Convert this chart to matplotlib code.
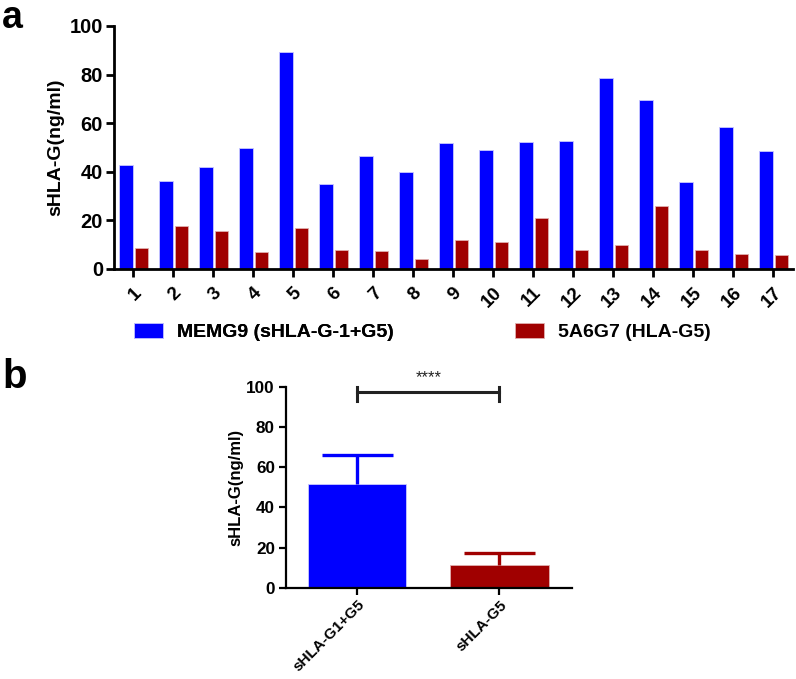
import matplotlib
matplotlib.use("Agg")
import matplotlib.pyplot as plt
import numpy as np

plt.rcParams['font.family'] = ['Liberation Sans', 'DejaVu Sans']
plt.rcParams['font.weight'] = 'bold'

# ---- data ----
samples = [str(i) for i in range(1, 18)]
memg9 = [42.8, 36.2, 41.8, 49.9, 89.3, 35.1, 46.6, 39.8, 51.7, 48.8, 52.1, 52.5, 78.5, 69.4, 35.7, 58.4, 48.7]
a5a6g7 = [8.5, 17.8, 15.5, 7.0, 17.0, 7.8, 7.5, 4.2, 11.9, 11.1, 21.1, 7.7, 9.7, 26.1, 7.8, 6.2, 5.6]
legend_labels = ["MEMG9 (sHLA-G-1+G5)", "5A6G7 (HLA-G5)"]

groups = ["sHLA-G1+G5", "sHLA-G5"]
group_means = [51.9, 11.4]
group_err = [14.1, 5.9]
sig_text = "****"

ylabel = "sHLA-G(ng/ml)"
blue = "#0000ff"
red = "#a00000"

W, H = 796, 679
fig = plt.figure(figsize=(W / 100, H / 100), dpi=100)

def ax_rect(l, t, r, b):
    return [l / W, 1 - b / H, (r - l) / W, (b - t) / H]

# ---- panel a ----
ax = fig.add_axes(ax_rect(114, 26, 793, 269))
x = np.arange(1, 18)
bw = 0.34
b1 = ax.bar(x - 0.17, memg9, bw, color=blue, edgecolor='#c8c8ff', linewidth=0.6)
b2 = ax.bar(x + 0.21, a5a6g7, bw, color=red, edgecolor='#e0b0b0', linewidth=0.6)
ax.set_xlim(0.525, 17.5)
ax.set_ylim(0, 100)
ax.set_yticks([0, 20, 40, 60, 80, 100])
ax.set_xticks(x)
ax.set_xticklabels(samples, rotation=45, ha='right', rotation_mode='anchor')
for s in ['top', 'right']:
    ax.spines[s].set_visible(False)
for s in ['left', 'bottom']:
    ax.spines[s].set_linewidth(2)
ax.tick_params(axis='y', width=2, length=6, labelsize=14.5, pad=2)
ax.tick_params(axis='x', width=2, length=6, labelsize=13.5, pad=5)
for lbl in ax.get_xticklabels() + ax.get_yticklabels():
    lbl.set_fontweight('bold')
ax.set_ylabel(ylabel, fontsize=14, fontweight='bold', labelpad=4)

lg1 = fig.legend([b1], [legend_labels[0]], loc='center left', bbox_to_anchor=(134 / W, 1 - 332 / H),
                 frameon=False, borderpad=0, borderaxespad=0, handlelength=1.5, handleheight=0.78,
                 handletextpad=0.72, prop={'weight': 'bold', 'size': 14})
fig.add_artist(lg1)
fig.legend([b2], [legend_labels[1]], loc='center left', bbox_to_anchor=(515 / W, 1 - 332 / H),
           frameon=False, borderpad=0, borderaxespad=0, handlelength=1.5, handleheight=0.78,
           handletextpad=0.72, prop={'weight': 'bold', 'size': 14})

fig.text(2 / W, 1 - 28 / H, "a", fontsize=27, fontweight='bold', va='baseline', ha='left')
fig.text(2 / W, 1 - 388 / H, "b", fontsize=29, fontweight='bold', va='baseline', ha='left')

# ---- panel b ----
ax2 = fig.add_axes(ax_rect(286, 386.7, 572, 588))
xb = np.array([1, 2])
ax2.bar(xb, group_means, 0.69, color=[blue, red], edgecolor=['#c8c8ff', '#e0b0b0'], linewidth=0.6)
for xi, m, e, c in zip(xb, group_means, group_err, [blue, red]):
    ax2.vlines(xi, m, m + e, color=c, lw=2.4)
    ax2.hlines(m + e, xi - 0.25, xi + 0.25, color=c, lw=2.4)
ax2.set_xlim(0.5, 2.51)
ax2.set_ylim(0, 100)
ax2.set_yticks([0, 20, 40, 60, 80, 100])
ax2.set_xticks(xb)
ax2.set_xticklabels(groups, rotation=45, ha='right', rotation_mode='anchor')
for s in ['top', 'right']:
    ax2.spines[s].set_visible(False)
for s in ['left', 'bottom']:
    ax2.spines[s].set_linewidth(1.6)
ax2.tick_params(axis='y', width=1.6, length=5, labelsize=12.3, pad=3)
ax2.tick_params(axis='x', width=1.6, length=5, labelsize=11, pad=2)
for lbl in ax2.get_xticklabels() + ax2.get_yticklabels():
    lbl.set_fontweight('bold')
ax2.set_ylabel(ylabel, fontsize=12, fontweight='bold', labelpad=2)

# significance bracket
ax2.plot([1, 2], [97.2, 97.2], color='#222222', lw=2.2, clip_on=False)
ax2.plot([1, 1], [93.1, 99.7], color='#222222', lw=2.2, clip_on=False)
ax2.plot([2, 2], [93.1, 99.7], color='#222222', lw=2.2, clip_on=False)
ax2.text(1.5, 100.8, sig_text, ha='center', va='bottom', fontsize=12, fontweight='normal', color='#222222')

fig.savefig("out.png", dpi=100)
